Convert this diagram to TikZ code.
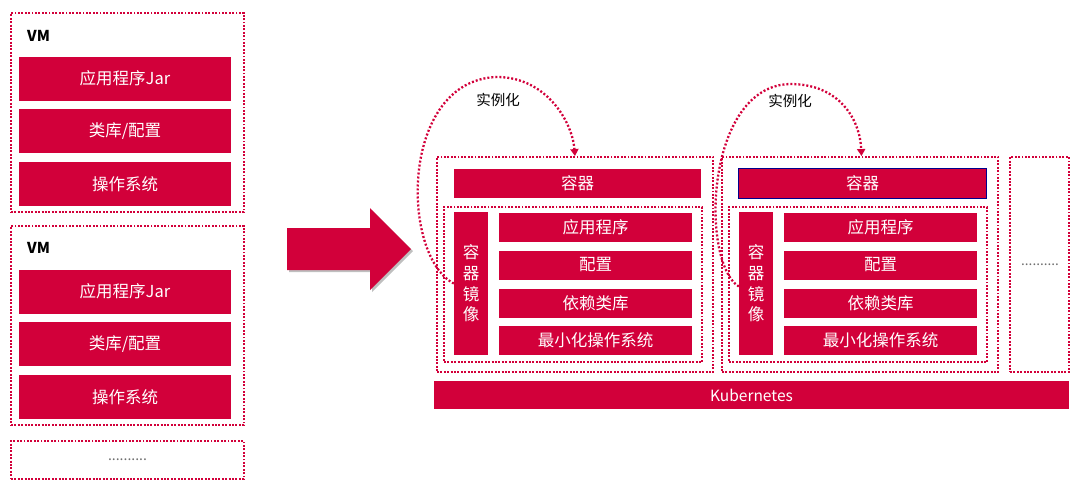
\documentclass[tikz,border=0pt]{standalone}
\usepackage{fontspec}
\setmainfont{Noto Sans CJK SC}
\usetikzlibrary{arrows.meta,calc}
\definecolor{kred}{RGB}{210,0,58}
\definecolor{dotgray}{RGB}{110,110,110}
\tikzset{
  rbox/.style={fill=kred, draw=none, text=white, inner sep=0pt, font=\fontsize{16.5}{19}\selectfont},
  dotbox/.style={draw=kred, line width=1.9pt, dash pattern=on 1.9pt off 1.5pt, fill=none, inner sep=0pt},
  dotarrow/.style={draw=kred, line width=2.3pt, dash pattern=on 2pt off 2pt, -{Triangle[width=8pt,length=7pt]}},
  lbl/.style={font=\fontsize{14.5}{17}\selectfont, text=black, inner sep=0pt}
}
\begin{document}
\begin{tikzpicture}[x=1pt,y=-1pt]
\useasboundingbox (0,0) rectangle (1080,491);
% ---------- left VM stacks ----------
\node[dotbox, minimum width=233pt, minimum height=199pt] (vm1) at (127.5,112.5) {};
\node[anchor=west, inner sep=0pt, font=\fontsize{15}{18}\selectfont\bfseries] (vm1l) at (27,36) {VM};
\node[rbox, minimum width=212pt, minimum height=44pt] (vm1a) at (125,78.5) {应用程序Jar};
\node[rbox, minimum width=212pt, minimum height=44pt] (vm1b) at (125,131) {类库/配置};
\node[rbox, minimum width=212pt, minimum height=44pt] (vm1c) at (125,184) {操作系统};

\node[dotbox, minimum width=233pt, minimum height=199pt] (vm2) at (127.5,325.5) {};
\node[anchor=west, inner sep=0pt, font=\fontsize{15}{18}\selectfont\bfseries] (vm2l) at (27,248) {VM};
\node[rbox, minimum width=212pt, minimum height=44pt] (vm2a) at (125,291.5) {应用程序Jar};
\node[rbox, minimum width=212pt, minimum height=44pt] (vm2b) at (125,344) {类库/配置};
\node[rbox, minimum width=212pt, minimum height=44pt] (vm2c) at (125,397) {操作系统};

\node[dotbox, minimum width=233pt, minimum height=38pt] (vm3) at (127.5,460) {};
\node[inner sep=0pt, text=dotgray, font=\fontsize{14}{16}\selectfont] (vm3d) at (127.5,460) {..........};

% ---------- big arrow ----------
\fill[black!25, xshift=2pt, yshift=-2pt] (287,228) -- (370,228) -- (370,208) -- (411,249) -- (370,290) -- (370,270) -- (287,270) -- cycle;
\fill[kred] (287,228) -- (370,228) -- (370,208) -- (411,249) -- (370,290) -- (370,270) -- (287,270) -- cycle;

% ---------- containers ----------
\foreach \i/\dx in {1/0, 2/285} {
  \begin{scope}[xshift=\dx pt]
    \node[dotbox, minimum width=276pt, minimum height=215pt] (c\i-box) at (575,264.5) {};
    \node[rbox, minimum width=247pt, minimum height=29pt] (c\i-bar) at (577.5,183.5) {容器};
    \node[dotbox, minimum width=258pt, minimum height=155pt] (c\i-in) at (573,284.5) {};
    \node[rbox, minimum width=34pt, minimum height=143pt, align=center, font=\fontsize{16.5}{20.7}\selectfont] (c\i-vert) at (471,283.5) {容\\器\\镜\\像};
    \node[rbox, minimum width=193pt, minimum height=29pt] (c\i-r1) at (595.5,227) {应用程序};
    \node[rbox, minimum width=193pt, minimum height=29pt] (c\i-r2) at (595.5,265) {配置};
    \node[rbox, minimum width=193pt, minimum height=29pt] (c\i-r3) at (595.5,303) {依赖类库};
    \node[rbox, minimum width=193pt, minimum height=29pt] (c\i-r4) at (595.5,340.5) {最小化操作系统};
  \end{scope}
}
\draw[draw=blue!55!black, line width=0.8pt] (c2-bar.north west) rectangle (c2-bar.south east);

% right placeholder box
\node[dotbox, minimum width=59pt, minimum height=215pt] (c3-box) at (1039.5,264.5) {};
\node[inner sep=0pt, text=dotgray, font=\fontsize{13.5}{16}\selectfont] (c3-d) at (1040,265) {..........};

% Kubernetes bar
\node[rbox, minimum width=635pt, minimum height=28pt, font=\fontsize{15.5}{18}\selectfont] (k8s) at (751.5,395) {Kubernetes};

% ---------- instantiate arrows ----------
\coordinate (t1) at (497,77);
\coordinate (t2) at (790,84);
\draw[dotarrow] (c1-vert.west) .. controls (400,255) and (400,80) .. (t1) .. controls (545,77) and (572,120) .. (c1-box.north);
\draw[dotarrow] ($(c2-vert.west)+(0,3)$) .. controls (700,262) and (705,86) .. (t2) .. controls (840,84) and (860,120) .. ($(c2-box.north)+(1.5,0)$);
\node[lbl] (l1) at (498,100) {实例化};
\node[lbl] (l2) at (790,101) {实例化};
\end{tikzpicture}
\end{document}
